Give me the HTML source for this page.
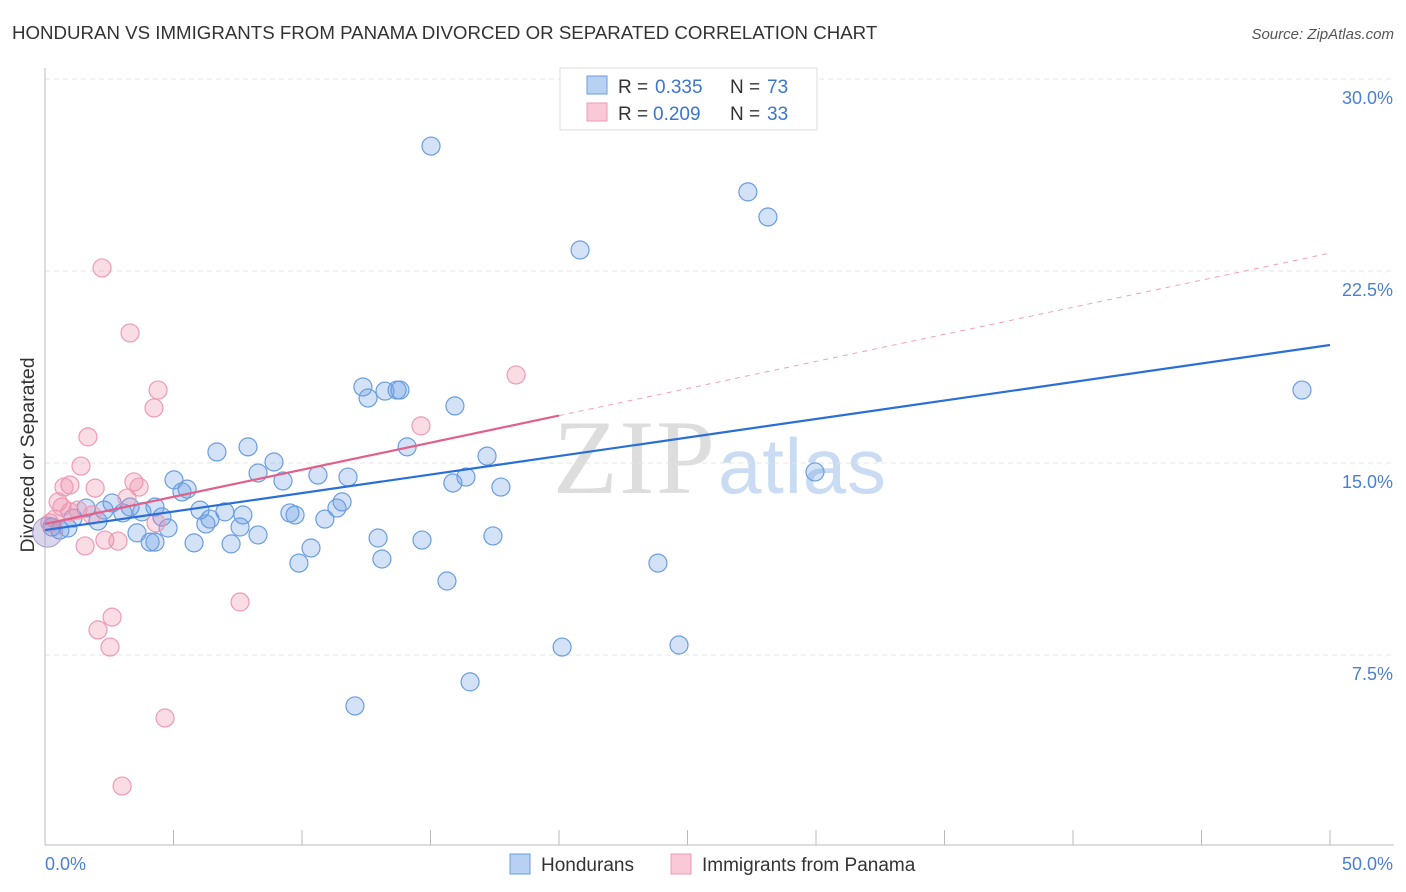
<!DOCTYPE html>
<html><head><meta charset="utf-8"><style>
body{margin:0;background:#fff;font-family:"Liberation Sans",sans-serif;}
svg{display:block}
</style></head><body>
<svg id="chart" width="1406" height="892">
<text x="12" y="39" font-size="18.7" fill="#333">HONDURAN VS IMMIGRANTS FROM PANAMA DIVORCED OR SEPARATED CORRELATION CHART</text>
<text x="1394" y="39" font-size="15" fill="#555" font-style="italic" text-anchor="end">Source: ZipAtlas.com</text>
<text x="34" y="455" font-size="19.5" fill="#333" text-anchor="middle" transform="rotate(-90 34 455)">Divorced or Separated</text>
<g><text x="553" y="493" font-size="106" fill="#ddd" font-family="Liberation Serif,serif" textLength="162">ZIP</text><text x="718" y="493" font-size="78" fill="#c9dcf3" textLength="168">atlas</text></g>
<g id="grid"></g><g id="axes"></g><g id="lines"></g><g id="pts"></g>
<g>
<rect x="560" y="68" width="257" height="62" fill="#fff" stroke="#ddd"/>
<rect x="587" y="76" width="20" height="18" fill="#b8d1f3" stroke="#6a9de0"/>
<text y="93" font-size="19" fill="#333"><tspan x="618">R =</tspan><tspan x="655" fill="#3a75d0">0.335</tspan><tspan x="730">N =</tspan><tspan x="767" fill="#3a75d0">73</tspan></text>
<rect x="587" y="103" width="20" height="18" fill="#f9c9d8" stroke="#ee9ab5"/>
<text y="120" font-size="19" fill="#333"><tspan x="618">R =</tspan><tspan x="653" fill="#3a75d0">0.209</tspan><tspan x="730">N =</tspan><tspan x="767" fill="#3a75d0">33</tspan></text>
</g>
<g>
<rect x="510" y="854" width="20" height="20" fill="#b8d1f3" stroke="#6a9de0"/>
<text x="541" y="871" font-size="19" fill="#333">Hondurans</text>
<rect x="671" y="854" width="20" height="20" fill="#f9c9d8" stroke="#ee9ab5"/>
<text x="702" y="871" font-size="19" fill="#333">Immigrants from Panama</text>
</g>
</svg>
<script>
const yTicks=[7.5,15,22.5,30];
const yTickLabels=["7.5%","15.0%","22.5%","30.0%"];
const xTickLabels=["0.0%","50.0%"];
const blueX=[15.02,27.35,28.13,20.82,48.91,12.37,12.57,13.23,13.70,13.81,15.95,7.90,6.69,14.09,8.91,17.20,8.29,10.62,11.79,9.26,5.02,16.38,15.87,29.96,17.74,5.33,5.53,2.61,11.56,11.36,3.31,4.28,2.30,1.60,3.03,3.77,6.03,7.00,7.70,9.53,9.73,10.89,4.55,1.09,2.06,6.42,6.26,7.59,4.79,3.58,0.89,0.58,0.27,8.29,4.09,4.28,5.80,7.24,12.96,14.67,17.43,10.35,13.11,9.88,23.85,15.64,20.12,24.67,16.54,12.06];
const blueY=[27.38,25.59,24.61,23.32,17.85,17.97,17.54,17.81,17.85,17.85,17.23,15.63,15.43,15.63,15.04,15.27,14.61,14.53,14.45,14.30,14.34,14.45,14.22,14.65,14.06,13.87,13.98,13.44,13.48,13.24,13.28,13.28,13.16,13.24,13.05,13.09,13.16,13.09,12.97,13.05,12.97,12.81,12.89,12.85,12.73,12.81,12.62,12.5,12.46,12.27,12.46,12.38,12.5,12.19,11.91,11.91,11.88,11.84,12.07,11.99,12.15,11.68,11.25,11.09,11.09,10.39,7.81,7.89,6.45,5.51];
const pinkX=[2.22,3.31,4.40,4.24,18.33,14.63,1.67,1.40,0.97,0.74,1.95,3.46,3.66,3.19,0.51,0.66,1.28,0.97,1.83,0.39,0.19,4.32,2.33,2.84,1.56,7.59,2.61,2.06,2.53,4.67,3.0];
const pinkY=[22.62,20.08,17.85,17.15,18.44,16.45,16.02,14.88,14.14,14.06,14.02,14.26,14.06,13.63,13.48,13.28,13.16,13.09,12.97,12.81,12.66,12.66,11.99,11.95,11.76,9.57,8.98,8.48,7.81,5.04,2.38];
const blueTrend=[12.38,19.61];
const pinkTrend=[12.62,23.2];
const pinkSolidEnd=20;
const X=v=>45+v/50*1285, Y=v=>847-v/30*768;
const NS="http://www.w3.org/2000/svg";
function mk(p,t,a){const e=document.createElementNS(NS,t);for(const k in a)e.setAttribute(k,a[k]);document.getElementById(p).appendChild(e);return e;}
yTicks.forEach((t,i)=>{
 const g=mk("grid","line",{x1:45,x2:1394,y1:Y(t),y2:Y(t),stroke:"#e4e4e4","stroke-dasharray":"5,4"});
 
 
 const l=mk("axes","text",{x:1393,y:Y(t)+25,"font-size":18,fill:"#4a7fd6","text-anchor":"end"});l.textContent=yTickLabels[i];
 
 
});
const ax=mk("axes","line",{x1:45,x2:45,y1:68,y2:845,stroke:"#bbb"});


const bx=mk("axes","line",{x1:45,x2:1394,y1:845,y2:845,stroke:"#bbb"});


for(let i=0;i<=10;i++){const t=mk("axes","line",{x1:X(i*5),x2:X(i*5),y1:830,y2:845,stroke:"#bbb"});
 
 }
[[0,"start",45],[50,"end",1393]].forEach((d,i)=>{const l=mk("axes","text",{x:d[2],y:870,"font-size":18,fill:"#4a7fd6","text-anchor":d[1]});l.textContent=xTickLabels[i];
 
 });
const py=x=>pinkTrend[0]+(pinkTrend[1]-pinkTrend[0])*x/50;
const pd=mk("lines","line",{x1:X(pinkSolidEnd),y1:Y(py(pinkSolidEnd)),x2:X(50),y2:Y(pinkTrend[1]),stroke:"#eea0b8","stroke-dasharray":"5,5"});


function dots(xs,ys,fill,stroke,name){xs.forEach((x,i)=>{const c=mk("pts","circle",{cx:X(x),cy:Y(ys[i]),r:9,fill:fill,stroke:stroke,"stroke-width":1.2});
 
 });}
dots(blueX,blueY,"rgba(110,160,230,0.3)","#6a9de0","honduran-point");
dots(pinkX,pinkY,"rgba(240,140,170,0.3)","#ee9ab5","panama-point");
const big1=mk("pts","circle",{cx:X(0.1),cy:Y(12.3),r:15,fill:"rgba(150,140,200,0.35)",stroke:"#a99bd0"});


const bl=mk("lines","line",{x1:X(0),y1:Y(blueTrend[0]),x2:X(50),y2:Y(blueTrend[1]),stroke:"#2a6fd6","stroke-width":2.2});


const pl=mk("lines","line",{x1:X(0),y1:Y(pinkTrend[0]),x2:X(pinkSolidEnd),y2:Y(py(pinkSolidEnd)),stroke:"#e0608a","stroke-width":2.2});


document.getElementById("chart").appendChild(document.getElementById("lines"));
</script>
</body></html>
